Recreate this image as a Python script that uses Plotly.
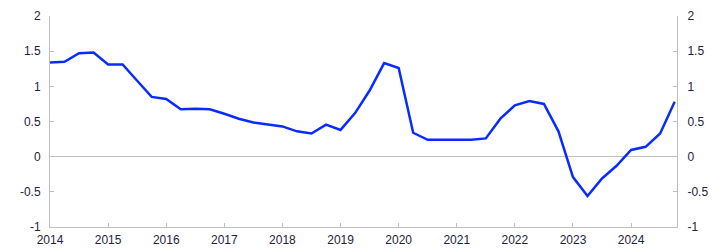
import plotly.graph_objects as go

quarters = [2014 + 0.25 * i for i in range(44)]
values = [1.34, 1.35, 1.47, 1.48, 1.31, 1.31, 1.08, 0.85,
          0.82, 0.675, 0.68, 0.675, 0.61, 0.54, 0.485, 0.46,
          0.43, 0.36, 0.33, 0.456, 0.38, 0.62, 0.94, 1.33,
          1.26, 0.34, 0.24, 0.24, 0.24, 0.24, 0.26,
          0.54, 0.73, 0.79, 0.75, 0.36, -0.29, -0.56, -0.31,
          -0.13, 0.095, 0.14, 0.33, 0.78]
year_ticks = list(range(2014, 2025))
y_ticks = [-1, -0.5, 0, 0.5, 1, 1.5, 2]
y_labels = ["-1", "-0.5", "0", "0.5", "1", "1.5", "2"]

font = dict(family="Liberation Sans, Arial, sans-serif", size=12, color="#1c2340")
axcol = "#bfbfbf"

fig = go.Figure()
fig.add_trace(go.Scatter(x=quarters, y=values, mode="lines",
                         line=dict(color="#0a2bff", width=2.5), showlegend=False, hoverinfo="skip"))
fig.add_trace(go.Scatter(x=quarters, y=values, mode="lines", yaxis="y2",
                         line=dict(color="rgba(0,0,0,0)", width=0), showlegend=False, hoverinfo="skip"))

fig.update_layout(
    width=722, height=252,
    margin=dict(l=50, r=45, t=16, b=25),
    paper_bgcolor="white", plot_bgcolor="white",
    font=font,
    xaxis=dict(range=[2014, 2024.79], tickvals=year_ticks, ticktext=[str(y) for y in year_ticks],
               showgrid=False, zeroline=False, showline=True, linecolor=axcol, linewidth=1,
               ticks="inside", ticklen=4, tickcolor=axcol, tickfont=font, ticklabelstandoff=2,
               automargin=False),
    yaxis=dict(range=[-1, 2], tickvals=y_ticks, ticktext=y_labels, showgrid=False,
               zeroline=True, zerolinecolor=axcol, zerolinewidth=1,
               showline=True, linecolor=axcol, linewidth=1,
               ticks="inside", ticklen=4, tickcolor=axcol, tickfont=font, ticklabelstandoff=6,
               automargin=False),
    yaxis2=dict(range=[-1, 2], tickvals=y_ticks, ticktext=y_labels, overlaying="y", side="right",
                showgrid=False, zeroline=False, showline=True, linecolor=axcol, linewidth=1,
                ticks="inside", ticklen=4, tickcolor=axcol, tickfont=font, ticklabelstandoff=7,
                automargin=False),
)

fig.write_html("out.html")
